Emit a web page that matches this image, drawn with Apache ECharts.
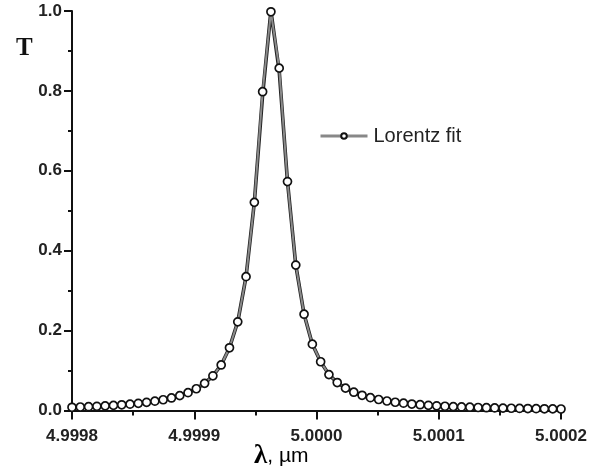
<!DOCTYPE html>
<html>
<head>
<meta charset="utf-8">
<script src="https://cdn.jsdelivr.net/npm/echarts@6/dist/echarts.min.js"></script>
<style>html,body{margin:0;padding:0;background:#fff}#c{width:590px;height:470px}</style>
</head>
<body>
<div id="c"></div>
<script>
// wavelength samples (µm)
const lambdaStart = 4.9998;
const lambdaStep = 0.0004 / 59;
const lambdaCount = 60;
// transmission (markers of the Lorentz fit)
const fitT = [
  0.008, 0.0088, 0.0096, 0.0105, 0.0116, 0.0128, 0.0143, 0.0159, 0.018, 0.0204,
  0.0233, 0.0269, 0.0314, 0.0372, 0.0446, 0.0545, 0.0679, 0.0868, 0.114, 0.157,
  0.222, 0.335, 0.521, 0.798, 0.998, 0.857, 0.573, 0.364, 0.241, 0.166,
  0.122, 0.0898, 0.070, 0.056, 0.0458, 0.0381, 0.0321, 0.0275, 0.0238, 0.0207,
  0.0183, 0.0162, 0.0145, 0.013, 0.0117, 0.0106, 0.0097, 0.0089, 0.0082, 0.0075,
  0.007, 0.0065, 0.006, 0.0056, 0.0052, 0.0049, 0.0046, 0.0043, 0.0041, 0.0038
];
// measured curve (black), nearly identical to the fit
const measuredT = [
  0.008, 0.0088, 0.0096, 0.0105, 0.0116, 0.0128, 0.0143, 0.0159, 0.018, 0.0204,
  0.0233, 0.0269, 0.0314, 0.0372, 0.0446, 0.0545, 0.0679, 0.0868, 0.114, 0.157,
  0.222, 0.335, 0.521, 0.79, 1.0, 0.85, 0.573, 0.364, 0.241, 0.166,
  0.122, 0.0898, 0.070, 0.056, 0.0458, 0.0381, 0.0321, 0.0275, 0.0238, 0.0207,
  0.0183, 0.0162, 0.0145, 0.013, 0.0117, 0.0106, 0.0097, 0.0089, 0.0082, 0.0075,
  0.007, 0.0065, 0.006, 0.0056, 0.0052, 0.0049, 0.0046, 0.0043, 0.0041, 0.0038
];
const xTicks = ['4.9998', '4.9999', '5.0000', '5.0001', '5.0002'];
const yTicks = ['0.0', '0.2', '0.4', '0.6', '0.8', '1.0'];

const lambdas = [];
for (let i = 0; i < lambdaCount; i++) lambdas.push(lambdaStart + i * lambdaStep);
const fitData = lambdas.map((l, i) => [l, fitT[i]]);
const measData = lambdas.map((l, i) => [l, measuredT[i]]);

const chart = echarts.init(document.getElementById('c'), null, {renderer: 'canvas'});
const labelFont = {color: '#222', fontFamily: 'Liberation Sans, Arial, sans-serif', fontWeight: 'bold', fontSize: 17};
chart.setOption({
  animation: false,
  backgroundColor: '#fff',
  grid: {left: 72, right: 29, top: 11, bottom: 59.5},
  legend: {
    show: true,
    left: 314, top: 121,
    itemWidth: 47, itemHeight: 7, itemGap: 10,
    data: ['Lorentz fit'],
    lineStyle: {width: 3, color: '#888'},
    textStyle: {color: '#222', fontFamily: 'Liberation Sans, Arial, sans-serif', fontSize: 20, padding: [0, 0, 0, 1]},
    selectedMode: false
  },
  xAxis: {
    type: 'value', min: 4.9998, max: 5.0002, interval: 0.0001,
    splitLine: {show: false},
    axisLine: {onZero: false, lineStyle: {color: '#111', width: 2}},
    axisTick: {inside: false, length: 9, lineStyle: {color: '#111', width: 2}},
    minorTick: {show: true, splitNumber: 2, length: 5, lineStyle: {color: '#111', width: 2}},
    axisLabel: Object.assign({margin: 17, formatter: v => {
      const i = Math.round((v - 4.9998) / 0.0001);
      return xTicks[i] || '';
    }}, labelFont)
  },
  yAxis: {
    type: 'value', min: 0, max: 1, interval: 0.2,
    splitLine: {show: false},
    axisLine: {onZero: false, lineStyle: {color: '#111', width: 2}},
    axisTick: {inside: false, length: 8, lineStyle: {color: '#111', width: 2}},
    minorTick: {show: true, splitNumber: 2, length: 4, lineStyle: {color: '#111', width: 2}},
    axisLabel: Object.assign({margin: 10, formatter: v => yTicks[Math.round(v / 0.2)] || ''}, labelFont)
  },
  graphic: [
    {type: 'text', left: 16, top: 36, style: {text: 'T', font: 'bold 25px "Liberation Serif", "Times New Roman", serif', fill: '#111'}},
    {type: 'text', left: 254, top: 443, style: {
      text: '{a|λ}{b|, µm}',
      rich: {
        a: {fontFamily: '"Liberation Serif", "Times New Roman", serif', fontWeight: 'bold', fontSize: 27, color: '#111'},
        b: {fontFamily: '"Liberation Sans", Arial, sans-serif', fontSize: 21, color: '#111'}
      }
    }}
  ],
  series: [
    {
      name: 'measured', type: 'line', data: measData, symbol: 'none', silent: true,
      lineStyle: {color: '#222', width: 3.6}, z: 2
    },
    {
      name: 'Lorentz fit', type: 'line', data: fitData, silent: true,
      symbol: 'circle', symbolSize: 8, showSymbol: true,
      itemStyle: {color: '#fff', borderColor: '#111', borderWidth: 1.7},
      lineStyle: {color: '#8a8a8a', width: 2}, z: 3
    }
  ]
});
</script>
</body>
</html>
